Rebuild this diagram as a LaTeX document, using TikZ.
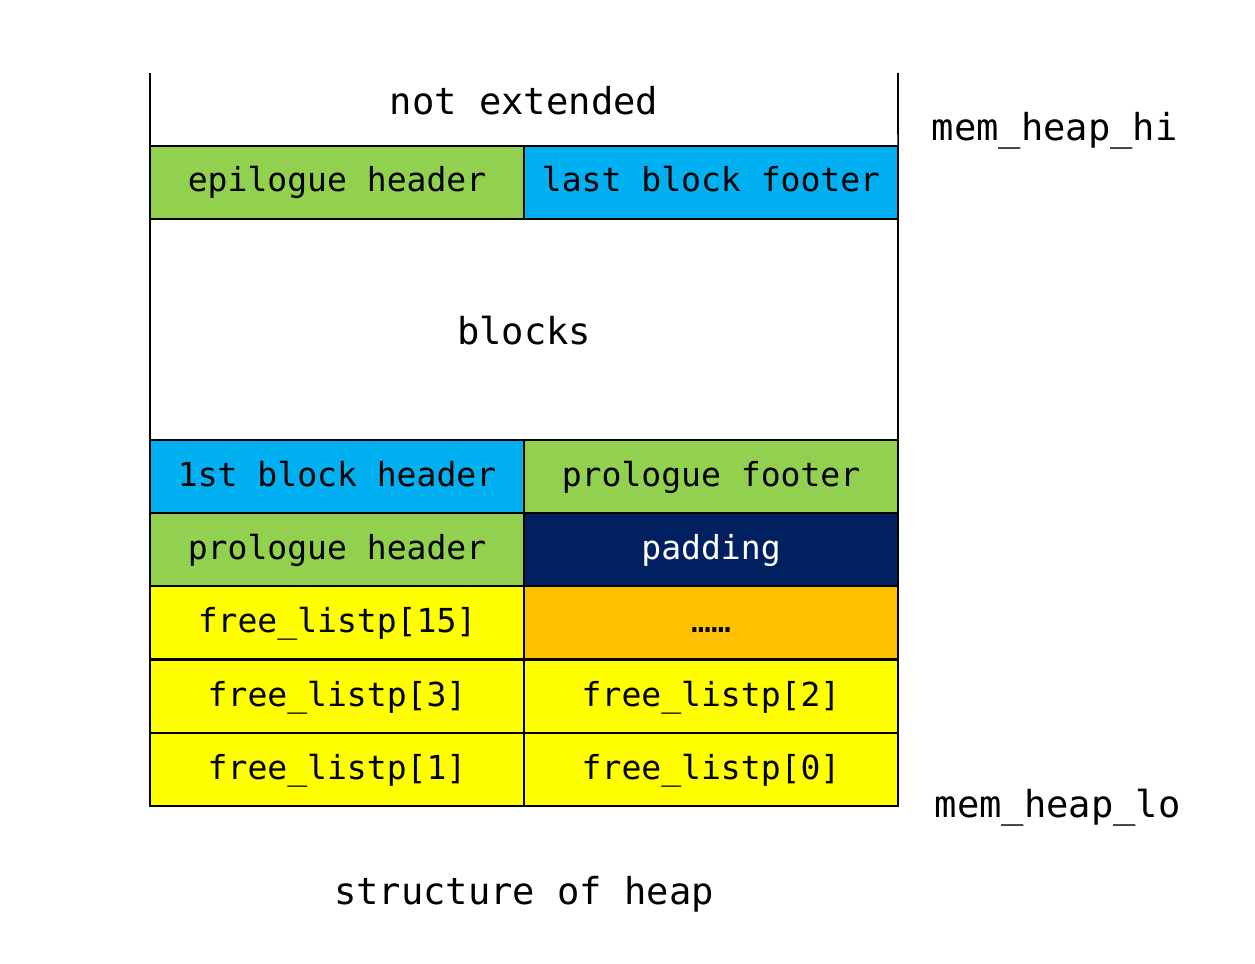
\documentclass[tikz,border=0pt]{standalone}
\usepackage{fontspec}
\newfontfamily\heapfont{DejaVu Sans Mono}
\usepackage{tikz}
\definecolor{hgreen}{HTML}{92D050}
\definecolor{hblue}{HTML}{00B0F0}
\definecolor{hnavy}{HTML}{002060}
\definecolor{hyellow}{HTML}{FFFF00}
\definecolor{horange}{HTML}{FFC000}

\begin{document}
\begin{tikzpicture}[x=0.025cm,y=-0.025cm,line width=1.2pt,
   cell/.style={draw,fill=#1,anchor=north west,minimum width=9.35cm,minimum height=1.825cm,inner sep=0pt,outer sep=0pt,
      text height=17pt,text depth=3.5pt,font=\heapfont\fontsize{23.5}{26}\selectfont},
   outer/.style={inner sep=0pt,font=\heapfont\fontsize{26.4}{30}\selectfont}]
\useasboundingbox (0,0) rectangle (1255,964);
% top part, not yet extended
\coordinate (tl) at (150,73);
\coordinate (tr) at (898,73);
\node[outer] (notext) at (524,101) {not extended};
\node[cell=hgreen] (epihdr) at (150,146) {epilogue header};
\node[cell=hblue] (lastftr) at (524,146) {last block footer};
\draw (tl) -- (epihdr.north west);
\draw (tr) -- (lastftr.north east);
\node[cell=white,minimum width=18.7cm,minimum height=5.525cm,
   font=\heapfont\fontsize{26.4}{30}\selectfont,text height=24pt,text depth=2pt] (blocks) at (150,219) {blocks};
\node[cell=hblue] (firsthdr) at (150,440) {1st block header};
\node[cell=hgreen] (proftr) at (524,440) {prologue footer};
\node[cell=hgreen] (prohdr) at (150,513) {prologue header};
\node[cell=hnavy,text=white] (padding) at (524,513) {padding};
% segregated free lists
\node[cell=hyellow] (free15) at (150,586) {free\_listp[15]};
\node[cell=horange] (dots) at (524,586) {……};
\foreach \y/\a/\b in {660/3/2,733/1/0} {
   \node[cell=hyellow] (free\a) at (150,\y) {free\_listp[\a]};
   \node[cell=hyellow] (free\b) at (524,\y) {free\_listp[\b]};
}
\node[outer,anchor=west] (heaphi) at (931,131) {mem\_heap\_hi};
\node[outer,anchor=west] (heaplo) at (934,808) {mem\_heap\_lo};
\node[outer] (caption) at (524,894) {structure of heap};
\end{tikzpicture}
\end{document}
